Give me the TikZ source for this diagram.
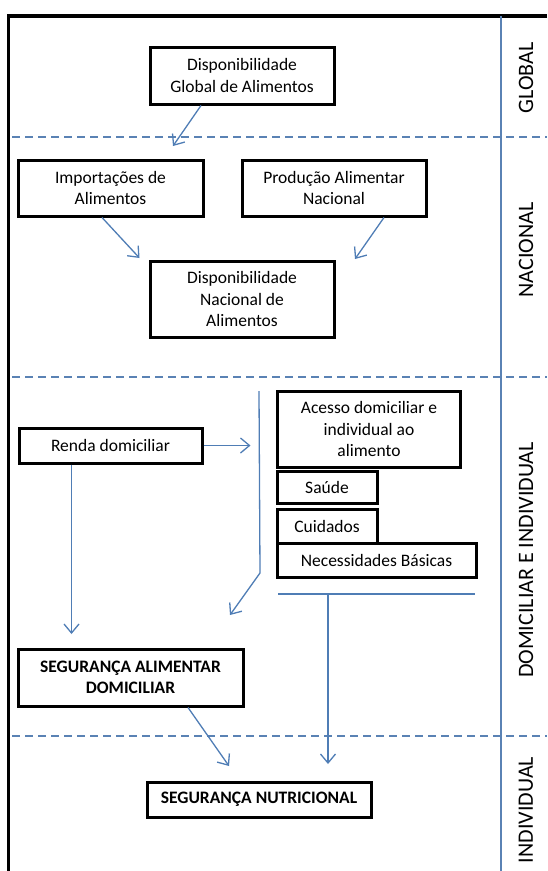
\documentclass[tikz,border=0pt]{standalone}
\usepackage{fontspec}
\setmainfont{Carlito}
\usepackage{xcolor}
\usepackage{tikz}
\usetikzlibrary{positioning,arrows.meta}
\definecolor{linkblue}{HTML}{4F7DB5}
\definecolor{levelline}{HTML}{5A82B4}

\begin{document}
\begin{tikzpicture}[
        x=1pt, y=-1pt,
        box/.style={
            rectangle,
            draw=black,
            line width=3pt,
            align=center,
            font=\fontsize{17.5}{21.5}\selectfont,
            inner sep=2pt
        },
        level/.style={
            rotate=90,
            font=\fontsize{22}{25}\selectfont,
            inner sep=0pt
        },
        arrow/.style={
            -{Straight Barb[length=9pt,width=15pt,line width=1.3pt]},
            line width=1.3pt,
            color=linkblue
        },
        link/.style={
            line width=1.3pt,
            color=linkblue
        },
        divider/.style={
            dashed,
            dash pattern=on 8pt off 5pt,
            line width=1.3pt,
            color=levelline
        }
    ]
        \useasboundingbox (0,0) rectangle (547,871);

        % Frame and levels
        \draw[line width=3.5pt] (547,16) -- (8.5,16) -- (8.5,871);
        \draw[link, color=levelline] (501,16) -- (501,871);
        \draw[divider] (12,137) -- (547,137);
        \draw[divider] (12,377) -- (547,377);
        \draw[divider] (12,736) -- (547,736);

        \node[level] (lglobal) at (526,78) {GLOBAL};
        \node[level] (lnacional) at (526,250) {NACIONAL};
        \node[level] (ldomic) at (526,560) {DOMICILIAR E INDIVIDUAL};
        \node[level] (lindiv) at (526,810) {INDIVIDUAL};

        % Global
        \node[box, minimum width=184pt, minimum height=57pt] (dga) at (242,75.5) {Disponibilidade\\Global de Alimentos};

        % Nacional
        \node[box, minimum width=185pt, minimum height=56pt] (imp) at (110.5,188) {Importações de\\Alimentos};
        \node[box, minimum width=184pt, minimum height=56pt] (prod) at (334,188) {Produção Alimentar\\Nacional};
        \node[box, minimum width=184pt, minimum height=76pt] (dna) at (242,299) {Disponibilidade\\Nacional de\\Alimentos};

        % Domiciliar e individual
        \node[box, minimum width=183pt, minimum height=35pt] (renda) at (110.5,445.5) {Renda domiciliar};
        \node[box, minimum width=183pt, minimum height=76pt] (acesso) at (369,429) {Acesso domiciliar e\\individual ao\\alimento};
        \node[box, minimum width=100pt, minimum height=32pt] (saude) at (327,487) {Saúde};
        \node[box, minimum width=100pt, minimum height=34pt] (cuid) at (327,526) {Cuidados};
        \node[box, minimum width=199pt, minimum height=34pt] (nec) at (376.5,560) {Necessidades Básicas};
        \node[box, minimum width=225pt, minimum height=57pt, font=\fontsize{17.5}{21.5}\selectfont\bfseries] (sad) at (130.5,677.5) {SEGURANÇA ALIMENTAR\\DOMICILIAR};

        % Individual
        \node[box, minimum width=224pt, minimum height=35pt, font=\fontsize{17.5}{21.5}\selectfont\bfseries] (snut) at (259,799.5) {SEGURANÇA NUTRICIONAL};

        % Free ends of the connectors
        \coordinate (g2n) at (173,146);
        \coordinate (i2d) at (139.5,258);
        \coordinate (p2d) at (355,259);
        \coordinate (r2a) at (250.5,445.5);
        \coordinate (r2s) at (71.5,634);
        \coordinate (bartop) at (259,391);
        \coordinate (barbot) at (260,573);
        \coordinate (b2s) at (230,615);
        \coordinate (basel) at (278,594);
        \coordinate (baser) at (475,594);
        \coordinate (basemid) at (328,594);
        \coordinate (b2n) at (328,764);
        \coordinate (s2n) at (229,766);

        % Arrows
        \draw[arrow] ([xshift=-41pt]dga.south) -- (g2n);
        \draw[arrow] ([xshift=-8.5pt]imp.south) -- (i2d);
        \draw[arrow] ([xshift=50pt]prod.south) -- (p2d);
        \draw[arrow] (renda.east) -- (r2a);
        \draw[arrow] ([xshift=-39pt]renda.south) -- (r2s);
        \draw[arrow] (bartop) -- (barbot) -- (b2s);
        \draw[link] (basel) -- (baser);
        \draw[arrow] (basemid) -- (b2n);
        \draw[arrow] ([xshift=57.5pt]sad.south) -- (s2n);
    \end{tikzpicture}
\end{document}
